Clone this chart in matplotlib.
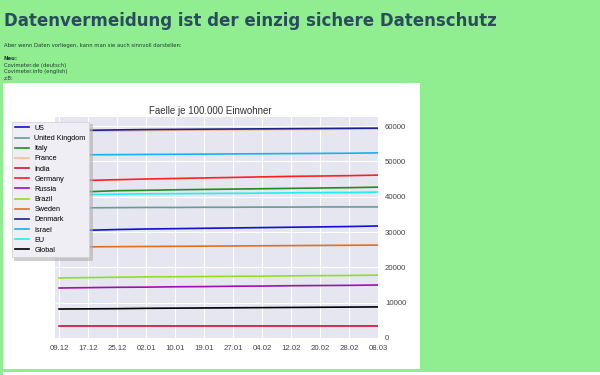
import matplotlib.pyplot as plt
from matplotlib.patches import Rectangle

# x categories (tick labels of the chart)
dates = ["09.12", "17.12", "25.12", "02.01", "10.01", "19.01",
         "27.01", "04.02", "12.02", "20.02", "28.02", "08.03"]

# cases per 100.000 inhabitants
us = [30300, 30500, 30700, 30850, 30950, 31050, 31150, 31250, 31350, 31450, 31550, 31700]
uk = [36800, 36850, 36900, 36950, 36950, 37000, 37000, 37050, 37050, 37100, 37100, 37100]
italy = [41300, 41400, 41700, 41800, 41950, 42050, 42150, 42250, 42350, 42450, 42550, 42700]
france = [58300, 58500, 58600, 58700, 58800, 58850, 58900, 58950, 59000, 59050, 59100, 59150]
india = [3400, 3400, 3400, 3400, 3400, 3400, 3400, 3400, 3400, 3400, 3400, 3400]
germany = [44400, 44600, 44800, 45000, 45150, 45300, 45450, 45600, 45750, 45850, 45950, 46100]
russia = [14150, 14250, 14350, 14400, 14500, 14550, 14650, 14700, 14800, 14850, 14900, 15000]
brazil = [17000, 17100, 17200, 17300, 17350, 17400, 17450, 17500, 17600, 17650, 17700, 17800]
sweden = [25750, 25800, 25850, 25900, 25950, 26000, 26050, 26100, 26150, 26200, 26250, 26300]
denmark = [58600, 58800, 58900, 59000, 59050, 59100, 59150, 59200, 59250, 59300, 59350, 59400]
israel = [51800, 51850, 51900, 51950, 52000, 52050, 52100, 52150, 52200, 52250, 52300, 52400]
eu = [40500, 40600, 40700, 40800, 40850, 40900, 40950, 41000, 41100, 41150, 41200, 41300]
world = [8200, 8250, 8300, 8400, 8450, 8500, 8550, 8600, 8650, 8700, 8750, 8800]

series = [
    ("US", us, "#1010d0"),
    ("United Kingdom", uk, "#6a9a9a"),
    ("Italy", italy, "#228b22"),
    ("France", france, "#f0c090"),
    ("India", india, "#d01030"),
    ("Germany", germany, "#ff2020"),
    ("Russia", russia, "#a010b0"),
    ("Brazil", brazil, "#90e020"),
    ("Sweden", sweden, "#e07020"),
    ("Denmark", denmark, "#20208a"),
    ("Israel", israel, "#1ab0f0"),
    ("EU", eu, "#20f0f0"),
    ("Global", world, "#000000"),
]

W, H = 600, 375
fig = plt.figure(figsize=(6, 3.75), dpi=100)
fig.patch.set_facecolor("#90ee90")


def fx(px):
    return px / W


def fy(py):
    return 1 - py / H


# page text
fig.text(fx(4), fy(21), "Datenvermeidung ist der einzig sichere Datenschutz",
         fontsize=12, fontweight="bold", color="#2a4d5c", va="center")
small = dict(fontsize=3.8, color="#1e3a30", va="center")
fig.text(fx(4), fy(45), "Aber wenn Daten vorliegen, kann man sie auch sinnvoll darstellen:", **small)
fig.text(fx(4), fy(58), "Neu:", fontweight="bold", **small)
fig.text(fx(4), fy(65), "Covimeter.de (deutsch)", **small)
fig.text(fx(4), fy(72), "Covimeter.info (english)", **small)
fig.text(fx(4), fy(79), "z.B:", **small)

# white panels
fig.add_artist(Rectangle((fx(3), fy(369)), fx(417), 286 / H, transform=fig.transFigure,
                         facecolor="white", edgecolor="none", zorder=0))
fig.add_artist(Rectangle((fx(3), 0), fx(597), 3 / H, transform=fig.transFigure,
                         facecolor="white", edgecolor="none", zorder=0))

chart_font = ["Liberation Sans", "DejaVu Sans"]
ax = fig.add_axes([fx(55), fy(338), fx(323), (338 - 117) / H])
ax.set_facecolor("#e5e6f0")
x = list(range(len(dates)))
for name, vals, col in series:
    ax.plot(x, vals, color=col, linewidth=1.2, label=name)

ax.set_xlim(-0.14, 11)
ax.set_ylim(0, 62550)
ax.set_xticks(x)
ax.set_xticklabels(dates)
ax.set_yticks([0, 10000, 20000, 30000, 40000, 50000, 60000])
ax.yaxis.tick_right()
ax.tick_params(length=0, labelsize=5.6, labelcolor="#444444", pad=5)
for lab in ax.get_xticklabels() + ax.get_yticklabels():
    lab.set_family(chart_font)
ax.grid(True, color="white", linewidth=0.8)
ax.set_axisbelow(True)
for s in ax.spines.values():
    s.set_visible(False)
ax.set_title("Faelle je 100.000 Einwohner", fontsize=7, color="#333333", pad=2,
             family=chart_font, x=0.48)

leg = fig.legend(loc="upper left", bbox_to_anchor=(fx(8), fy(118)),
                 prop={"family": chart_font, "size": 5.2}, frameon=True,
                 shadow={"color": "#b0b0b0", "alpha": 0.6}, fancybox=False,
                 handlelength=2.0, labelspacing=0.43, borderpad=0.45,
                 handletextpad=0.7)
leg.get_frame().set_facecolor("#eeeef4")
leg.get_frame().set_edgecolor("#d0d0d0")
leg.get_frame().set_linewidth(0.5)
for line in leg.get_lines():
    line.set_linewidth(1.2)

fig.savefig("out.png", dpi=100, facecolor=fig.get_facecolor())
